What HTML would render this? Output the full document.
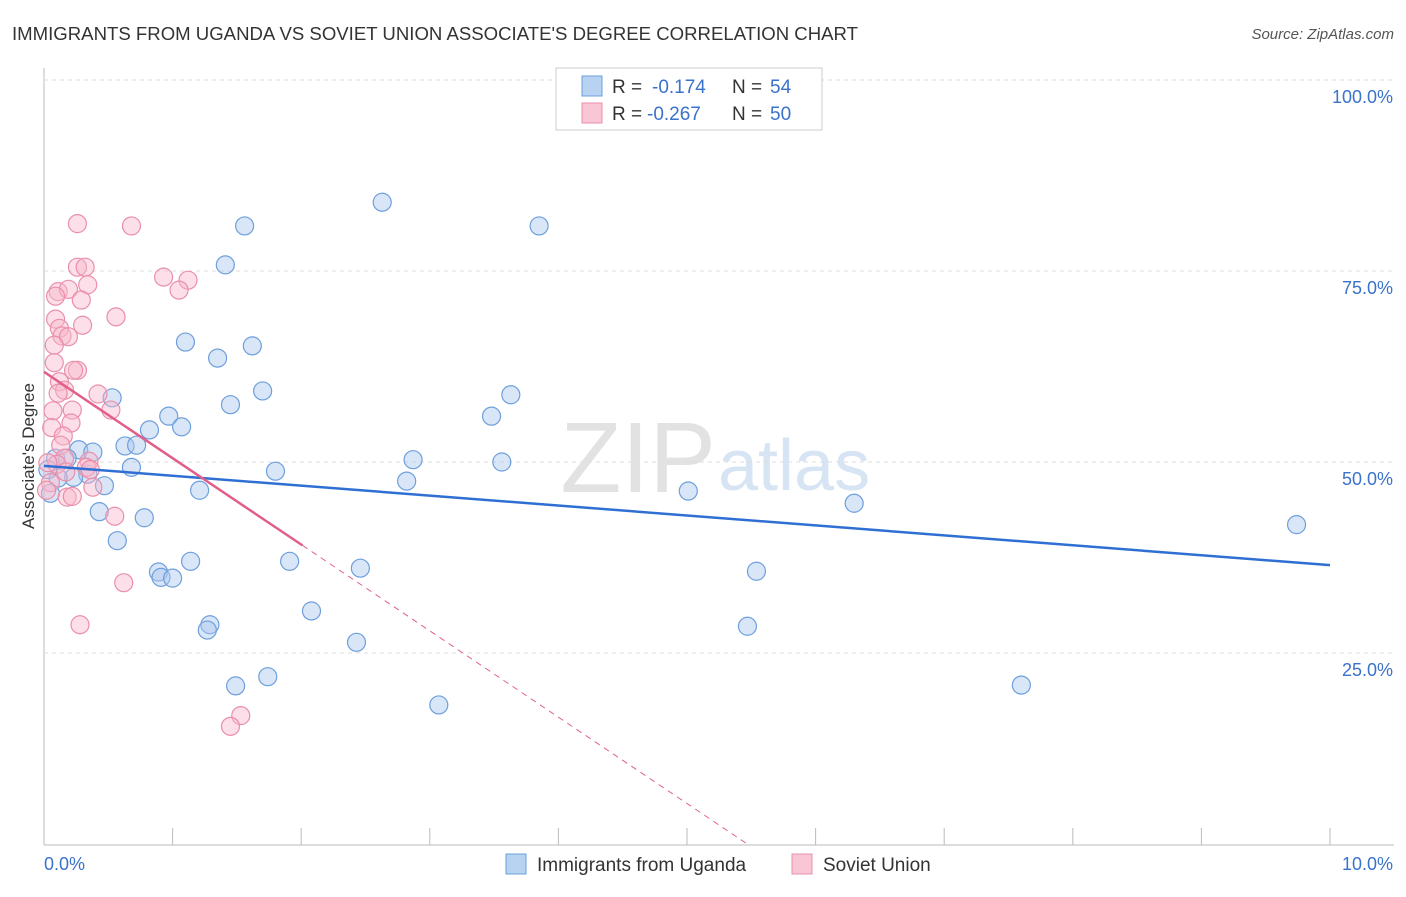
<!DOCTYPE html>
<html><head><meta charset="utf-8"><style>
body{margin:0;background:#fff;font-family:"Liberation Sans",sans-serif}
svg text{font-family:"Liberation Sans",sans-serif}
</style></head><body>
<svg id="chart" width="1406" height="892" xmlns="http://www.w3.org/2000/svg">
<text x="12" y="40" font-size="18" fill="#333" textLength="846" lengthAdjust="spacingAndGlyphs">IMMIGRANTS FROM UGANDA VS SOVIET UNION ASSOCIATE'S DEGREE CORRELATION CHART</text>
<text x="1394" y="39" font-size="15" fill="#555" text-anchor="end" font-style="italic">Source: ZipAtlas.com</text>
<text transform="translate(34,456) rotate(-90)" font-size="17" fill="#333" text-anchor="middle">Associate's Degree</text>
<text x="716" y="492" font-size="100" fill="#e2e2e2" text-anchor="end" font-family="Liberation Serif">ZIP</text>
<text x="718" y="490" font-size="72" fill="#d6e4f4">atlas</text>
<g id="grid"></g><g id="marks"></g>
<g>
<rect x="556" y="68" width="266" height="62" fill="#fff" stroke="#ccc"/>
<rect x="582" y="76" width="20" height="20" fill="#b8d2f2" stroke="#6d9fdc"/>
<rect x="582" y="103" width="20" height="20" fill="#f9c6d5" stroke="#ea8fab"/>
<text x="612" y="93" font-size="19" fill="#333">R =</text>
<text x="652" y="93" font-size="19" fill="#3a72cc">-0.174</text>
<text x="732" y="93" font-size="19" fill="#333">N =</text>
<text x="770" y="93" font-size="19" fill="#3a72cc">54</text>
<text x="612" y="120" font-size="19" fill="#333">R =</text>
<text x="647" y="120" font-size="19" fill="#3a72cc">-0.267</text>
<text x="732" y="120" font-size="19" fill="#333">N =</text>
<text x="770" y="120" font-size="19" fill="#3a72cc">50</text>
</g>
<g>
<rect x="506" y="854" width="20" height="20" fill="#b8d2f2" stroke="#6d9fdc"/>
<text x="537" y="871" font-size="19" fill="#333">Immigrants from Uganda</text>
<rect x="792" y="854" width="20" height="20" fill="#f9c6d5" stroke="#ea8fab"/>
<text x="823" y="871" font-size="19" fill="#333">Soviet Union</text>
</g>
</svg>
<script>
const yTicks=[25,50,75,100];
const xTickLabels=["0.0%","10.0%"];
const blueX=[2.63,3.85,1.56,1.41,1.10,1.62,1.35,1.70,0.53,1.45,0.97,3.48,3.63,0.82,1.07,0.63,0.72,0.27,0.38,0.09,0.18,0.68,1.80,2.87,3.56,2.82,0.34,0.23,0.11,0.03,0.47,1.21,5.01,0.05,0.43,0.78,6.30,9.74,0.57,1.14,1.91,2.46,0.89,0.91,1.00,5.54,2.08,1.29,1.27,5.47,2.43,1.74,1.49,7.60,3.07];
const blueY=[84.0,80.9,80.9,75.8,65.7,65.2,63.6,59.3,58.4,57.5,56.0,56.0,58.8,54.2,54.6,52.1,52.2,51.6,51.3,50.5,50.5,49.3,48.8,50.3,50.0,47.5,48.4,48.0,47.9,49.0,46.9,46.3,46.2,45.9,43.5,42.7,44.6,41.8,39.7,37.0,37.0,36.1,35.6,34.9,34.8,35.7,30.5,28.7,28.0,28.5,26.4,21.9,20.7,20.8,18.2];
const pinkX=[.26,.68,.26,.32,.93,1.12,1.05,.11,.19,.09,.34,.29,.56,.09,.30,.12,.14,.19,.26,.23,.08,.12,.16,.11,.42,.52,.22,.07,.21,.06,.15,.13,.16,.10,.03,.35,.33,.05,.38,.02,.18,.22,.55,.62,.28,1.53,1.45,.08,.17,.36];
const pinkY=[81.2,80.9,75.5,75.5,74.2,73.8,72.5,72.3,72.6,71.7,73.2,71.2,69.0,68.7,67.9,67.5,66.5,66.4,62.0,62.0,63.0,60.5,59.4,59.0,58.9,56.8,56.8,56.7,55.1,54.5,53.4,52.2,50.5,49.7,49.9,50.1,49.3,47.3,46.7,46.3,45.4,45.5,42.9,34.2,28.7,16.8,15.4,65.3,48.7,49.0];
const blueTrend=[49.5,36.5];
const pinkTrend=[61.8,-11.3];
const NS="http://www.w3.org/2000/svg";
const X=v=>44+v*128.6, Y=v=>844-v*7.64;
function mk(tag,attrs,parent){const e=document.createElementNS(NS,tag);for(const k in attrs)e.setAttribute(k,attrs[k]);parent.appendChild(e);return e;}
const grid=document.getElementById('grid'), marks=document.getElementById('marks');
mk('line',{x1:44,y1:68,x2:44,y2:845,stroke:'#bbb'},grid);
mk('line',{x1:44,y1:845,x2:1394,y2:845,stroke:'#bbb'},grid);
for(let i=1;i<=10;i++){mk('line',{x1:X(i),y1:828,x2:X(i),y2:845,stroke:'#bbb'},grid);}
yTicks.forEach(t=>{
 const l=mk('line',{x1:44,y1:Y(t),x2:1394,y2:Y(t),stroke:'#ddd','stroke-dasharray':'4,4'},grid);
 
 
 const tx=mk('text',{x:1393,y:Y(t)+23,'font-size':18,fill:'#3a72cc','text-anchor':'end'},grid);
 tx.textContent=t.toFixed(1)+'%';
 
 
});
xTickLabels.forEach((s,i)=>{
 const tx=mk('text',{x:i?1393:44,y:870,'font-size':18,fill:'#3a72cc','text-anchor':i?'end':'start'},grid);
 tx.textContent=s;
 
 
});
function pts(xs,ys,fill,stroke,name){xs.forEach((x,i)=>{
 const c=mk('circle',{cx:X(x),cy:Y(ys[i]),r:9,fill:fill,stroke:stroke,'stroke-width':1.2},marks);
 
 
});}
pts(blueX,blueY,'rgba(170,200,240,0.45)','#6d9fdc','uganda-point');
pts(pinkX,pinkY,'rgba(248,185,205,0.45)','#ea8fab','soviet-point');
const bl=mk('line',{x1:X(0),y1:Y(blueTrend[0]),x2:X(10),y2:Y(blueTrend[1]),stroke:'#2f6fd4','stroke-width':2.5},marks);


const pe=2.01, pz=-pinkTrend[0]/pinkTrend[1];
const pl=mk('line',{x1:X(0),y1:Y(pinkTrend[0]),x2:X(pe),y2:Y(pinkTrend[0]+pinkTrend[1]*pe),stroke:'#e0608a','stroke-width':2.5},marks);


const pd=mk('line',{x1:X(pe),y1:Y(pinkTrend[0]+pinkTrend[1]*pe),x2:X(pz),y2:Y(0),stroke:'#e0608a','stroke-width':1,'stroke-dasharray':'6,5'},marks);


</script>
</body></html>
